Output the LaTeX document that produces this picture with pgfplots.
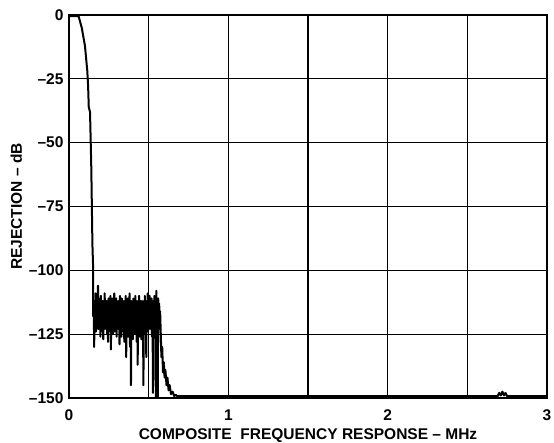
\documentclass[border=0pt]{standalone}
\usepackage{fontspec}
\setmainfont{Liberation Sans}
\usepackage{pgfplots}
\pgfplotsset{compat=1.18}

\begin{document}
\begin{tikzpicture}
\begin{axis}[
    scale only axis,
    width=478pt, height=383pt,
    xmin=0, xmax=3,
    ymin=-150, ymax=0,
    xtick={0,0.5,...,3},
    xticklabels={0,,1,,2,,3},
    ytick={-150,-125,...,0},
    yticklabels={–150,–125,–100,–75,–50,–25,0},
    major tick length=0pt,
    grid=major,
    major grid style={black, line width=1.2pt},
    axis line style={black, line width=1.8pt},
    tick label style={font=\fontsize{15.5}{17}\selectfont\bfseries},
    label style={font=\fontsize{15.5}{17}\selectfont\bfseries},
    yticklabel style={xshift=-2pt},
    xticklabel style={yshift=-8pt},
    xlabel={COMPOSITE\ \ FREQUENCY RESPONSE – MHz},
    ylabel={REJECTION – dB},
    xlabel style={at={(rel axis cs:0.5,0)}, anchor=base, yshift=-42pt},
]
\addplot[black, line width=2pt, line join=round] coordinates {
    (0,-0.4) (0.06,-0.4) (0.08,-5) (0.1,-12) (0.115,-22) (0.12,-28) (0.124,-36)
    (0.132,-38) (0.14,-60) (0.147,-90) (0.152,-100) (0.152,-118)
    (0.155,-112) (0.158,-130) (0.161,-113) (0.164,-121) (0.167,-109)
    (0.170,-124) (0.173,-112) (0.176,-120) (0.179,-114) (0.182,-106)
    (0.185,-123) (0.188,-111) (0.191,-122) (0.194,-113) (0.197,-126)
    (0.200,-110) (0.203,-120) (0.206,-114) (0.209,-124) (0.212,-112)
    (0.215,-127) (0.218,-113) (0.221,-121) (0.224,-109) (0.227,-123)
    (0.230,-114) (0.233,-119) (0.236,-112) (0.239,-125) (0.242,-113)
    (0.245,-128) (0.248,-111) (0.251,-124) (0.254,-115) (0.257,-120)
    (0.260,-110) (0.263,-131) (0.266,-113) (0.269,-122) (0.272,-111)
    (0.275,-125) (0.278,-113) (0.281,-120) (0.284,-109) (0.287,-124)
    (0.290,-114) (0.293,-119) (0.296,-111) (0.299,-126) (0.302,-113)
    (0.305,-121) (0.308,-112) (0.311,-123) (0.314,-115) (0.317,-129)
    (0.320,-110) (0.323,-122) (0.326,-113) (0.329,-126) (0.332,-111)
    (0.335,-121) (0.338,-114) (0.341,-124) (0.344,-112) (0.347,-128)
    (0.350,-113) (0.353,-125) (0.356,-110) (0.359,-134) (0.362,-113)
    (0.365,-122) (0.368,-111) (0.371,-126) (0.374,-114) (0.377,-121)
    (0.380,-109) (0.383,-130) (0.386,-113) (0.389,-145) (0.392,-112)
    (0.395,-123) (0.398,-114) (0.401,-127) (0.404,-111) (0.407,-121)
    (0.410,-113) (0.413,-125) (0.416,-110) (0.419,-122) (0.422,-114)
    (0.425,-128) (0.428,-112) (0.431,-137) (0.434,-113) (0.437,-122)
    (0.440,-110) (0.443,-126) (0.446,-113) (0.449,-121) (0.452,-112)
    (0.455,-127) (0.458,-114) (0.461,-123) (0.464,-112) (0.467,-145)
    (0.470,-113) (0.473,-122) (0.476,-110) (0.479,-125) (0.482,-113)
    (0.485,-134) (0.488,-112) (0.491,-121) (0.494,-109) (0.497,-124)
    (0.500,-113) (0.503,-120) (0.506,-110) (0.509,-123) (0.512,-112)
    (0.515,-121) (0.518,-111) (0.521,-126) (0.524,-113) (0.527,-148)
    (0.530,-112) (0.533,-122) (0.536,-110) (0.539,-124) (0.542,-111)
    (0.545,-150) (0.548,-108) (0.551,-121) (0.554,-112) (0.557,-150)
    (0.560,-111) (0.563,-123) (0.566,-113) (0.569,-120) (0.572,-116)
    (0.576,-125) (0.580,-134) (0.585,-130) (0.590,-140) (0.595,-136)
    (0.600,-142) (0.605,-139) (0.612,-145) (0.618,-142) (0.625,-147)
    (0.632,-145) (0.640,-148.5) (0.650,-147.5) (0.660,-149.2) (0.670,-148.8)
    (0.680,-149.3) (2.69,-149.3) (2.70,-148) (2.71,-149) (2.72,-147.5)
    (2.73,-149) (2.74,-148) (2.75,-149.3) (3,-149.3)
};
\end{axis}
\pgfresetboundingbox
\path[use as bounding box] ([shift={(-69pt,-45pt)}]current axis.south west)
    rectangle ([shift={(7pt,15pt)}]current axis.north east);
\end{tikzpicture}
\end{document}
